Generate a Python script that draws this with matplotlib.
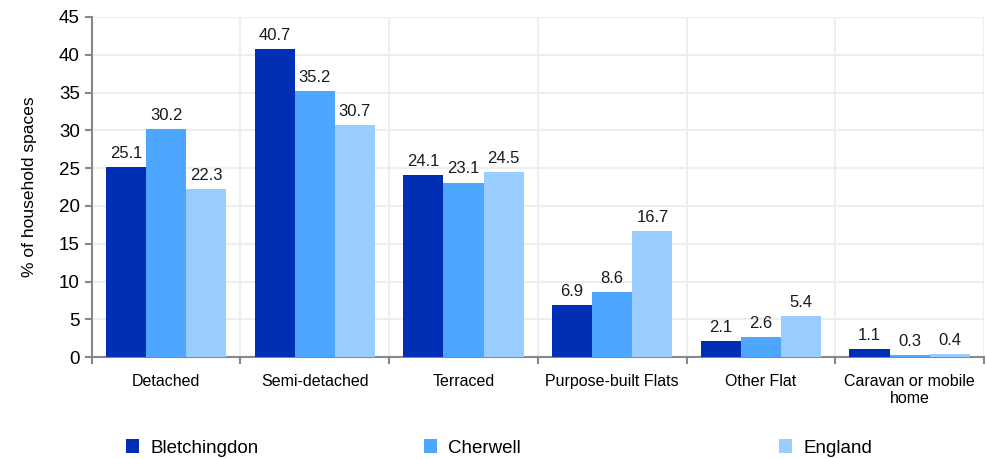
import matplotlib
matplotlib.use("Agg")
from matplotlib import pyplot as plt
import numpy as np

plt.rcParams['font.family'] = ['Liberation Sans', 'DejaVu Sans']

# data
categories = ["Detached", "Semi-detached", "Terraced", "Purpose-built Flats",
              "Other Flat", "Caravan or mobile\nhome"]
bletchingdon = [25.1, 40.7, 24.1, 6.9, 2.1, 1.1]
cherwell = [30.2, 35.2, 23.1, 8.6, 2.6, 0.3]
england = [22.3, 30.7, 24.5, 16.7, 5.4, 0.4]
series_names = ["Bletchingdon", "Cherwell", "England"]
colors = ["#002EB4", "#4DA6FF", "#99CCFF"]

fig = plt.figure(figsize=(9.86, 4.59), dpi=100)
ax = fig.add_axes([0.093, 0.222, 0.905, 0.741])

x = np.arange(len(categories))
w = 0.27
handles = []
for i, (vals, name, col) in enumerate(zip([bletchingdon, cherwell, england], series_names, colors)):
    bars = ax.bar(x + (i - 1) * w, vals, w, color=col, label=name, zorder=3)
    handles.append(bars)
    for b, v in zip(bars, vals):
        ax.text(b.get_x() + b.get_width() / 2, v + 0.8, "%.1f" % v,
                ha='center', va='bottom', fontsize=12, color='#1a1a1a')

ax.set_xlim(-0.5, len(categories) - 0.5)
ax.set_ylim(0, 45)
ax.set_yticks(range(0, 46, 5))
ax.tick_params(axis='y', labelsize=13.5, length=5, color='#888888', width=1.5)

# category labels centred, ticks at boundaries
ax.set_xticks(x)
ax.set_xticklabels(categories, fontsize=11.5)
ax.tick_params(axis='x', which='major', length=0, pad=12)
ax.set_xticks(np.arange(-0.5, len(categories), 1), minor=True)
ax.tick_params(axis='x', which='minor', length=5, color='#888888', width=1.5)

ax.grid(True, axis='y', color='#eeeeee', lw=1.5, zorder=0)
ax.grid(True, axis='x', which='minor', color='#eeeeee', lw=1.5, zorder=0)
for s in ['top', 'right']:
    ax.spines[s].set_visible(False)
for s in ['left', 'bottom']:
    ax.spines[s].set_color('#888888')
    ax.spines[s].set_linewidth(1.5)

ax.set_ylabel("% of household spaces", fontsize=12.5, labelpad=16)

# legend entries spread across the bottom
leg_x = [0.128, 0.43, 0.79]
for h, name, lx in zip(handles, series_names, leg_x):
    lg = fig.legend([h], [name], loc='center left', bbox_to_anchor=(lx, 0.024),
                    frameon=False, fontsize=13.5, handlelength=0.7,
                    handleheight=0.7, handletextpad=0.6, borderaxespad=0,
                    borderpad=0)

plt.savefig("out.png", dpi=100)
